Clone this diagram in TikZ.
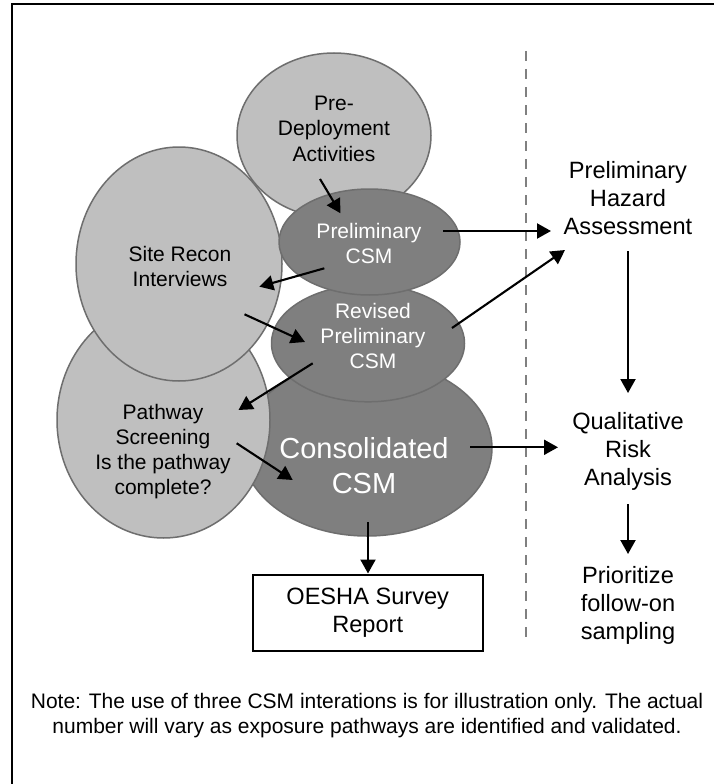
\documentclass[tikz,border=0pt]{standalone}
\usepackage{fontspec}
\setmainfont{Liberation Sans}
\usetikzlibrary{shapes.geometric,arrows.meta}
\definecolor{lightfill}{HTML}{BFBFBF}
\definecolor{darkfill}{HTML}{7F7F7F}
\definecolor{edgegray}{HTML}{6E6E6E}
\definecolor{dashgray}{HTML}{808080}
\begin{document}
\begin{tikzpicture}[x=1pt,y=-1pt,
  bubble/.style={ellipse, draw=edgegray, line width=1.5pt, inner sep=0pt, outer sep=0pt},
  lightbub/.style={bubble, fill=lightfill},
  darkbub/.style={bubble, fill=darkfill},
  txt/.style={align=center, inner sep=0pt, font=\fontsize{21}{25.5}\selectfont},
  wtxt/.style={txt, text=white},
  bigtxt/.style={align=center, inner sep=0pt, text=white, font=\fontsize{29}{35}\selectfont},
  rtxt/.style={align=center, inner sep=0pt, font=\fontsize{23.6}{28}\selectfont},
  arr/.style={line width=2.1pt, -{Triangle[length=14pt,width=15pt]}},
  frameline/.style={line width=2.4pt, black},
  divider/.style={line width=2pt, dashgray, dash pattern=on 10pt off 8pt},
]
\useasboundingbox (0,0) rectangle (714,784);
\fill[white] (0,0) rectangle (714,784);
% frame (top and left edges visible)
\coordinate (fbl) at (12,786);
\coordinate (ftl) at (12,4);
\coordinate (ftr) at (716,4);
\draw[frameline] (fbl) -- (ftl) -- (ftr);

% divider
\coordinate (dtop) at (526,51);
\coordinate (dbot) at (526,640);
\draw[divider] (dtop) -- (dbot);

% bubbles, back to front
\node[lightbub, minimum width=194pt, minimum height=165pt] (predep) at (334,135.5) {};
\node[darkbub, minimum width=250pt, minimum height=176pt] (consol) at (367,448) {};
\node[lightbub, minimum width=213pt, minimum height=236pt] (pathway) at (163.5,420) {};
\node[lightbub, minimum width=206pt, minimum height=234pt] (recon) at (179,264) {};
\node[darkbub, minimum width=193pt, minimum height=117pt] (revised) at (368,343.3) {};
\node[darkbub, minimum width=181pt, minimum height=106pt] (prelim) at (369.5,242) {};

% bubble texts
\node[txt] (predeptxt) at (334,128.7) {Pre-\\Deployment\\Activities};
\node[txt] (recontxt) at (180,266.7) {Site Recon\\Interviews};
\node[txt, font=\fontsize{21}{25}\selectfont] (pathtxt) at (163,452) {Pathway\\Screening\\Is the pathway\\complete?};
\node[wtxt, font=\fontsize{21}{25}\selectfont] (prelimtxt) at (369,243.3) {Preliminary\\CSM};
\node[wtxt, font=\fontsize{21}{25}\selectfont] (revisedtxt) at (373,335.5) {Revised\\Preliminary\\CSM};
\node[bigtxt] (consoltxt) at (364,465.4) {Consolidated\\CSM};

% right-hand column
\node[rtxt] (hazard) at (628,197.8) {Preliminary\\Hazard\\Assessment};
\node[rtxt] (qual) at (628,451.5) {Qualitative\\Risk\\Analysis};
\node[rtxt] (prior) at (628,605.2) {Prioritize\\follow-on\\sampling};

% report box
\node[draw=black, line width=2pt, minimum width=230pt, minimum height=76pt, inner sep=0pt,
      align=center, font=\fontsize{23.6}{28}\selectfont] (report) at (367.7,612.5) {OESHA Survey\\Report};

% note
\node[align=center, inner sep=0pt, font=\fontsize{21}{25}\selectfont] (note) at (367,715.4)
  {Note: The use of three CSM interations is for illustration only. The actual\\number will vary as exposure pathways are identified and validated.};

% arrow end points
\coordinate (a1s) at (320,179);     \coordinate (a1e) at (340.5,213.3);
\coordinate (a2s) at (324.3,268.3); \coordinate (a2e) at (259.3,286.7);
\coordinate (a3s) at (244.5,314.3); \coordinate (a3e) at (305,342);
\coordinate (a4s) at (312.7,363.3); \coordinate (a4e) at (238.5,410);
\coordinate (a5s) at (236.7,443.3); \coordinate (a5e) at (292.7,480);
\coordinate (a6s) at (443,231);     \coordinate (a6e) at (551,231);
\coordinate (a7s) at (452,328);     \coordinate (a7e) at (565,250);
\coordinate (a8s) at (470,447.3);   \coordinate (a8e) at (558,447.3);
\coordinate (a9s) at (368,522);
\coordinate (a10s) at (628,251);    \coordinate (a10e) at (628,393);
\coordinate (a11s) at (628,504);    \coordinate (a11e) at (628,554);

\draw[arr] (a1s) -- (a1e);
\draw[arr] (a2s) -- (a2e);
\draw[arr] (a3s) -- (a3e);
\draw[arr] (a4s) -- (a4e);
\draw[arr] (a5s) -- (a5e);
\draw[arr] (a6s) -- (a6e);
\draw[arr] (a7s) -- (a7e);
\draw[arr] (a8s) -- (a8e);
\draw[arr] (a9s) -- (a9s |- report.north);
\draw[arr] (a10s) -- (a10e);
\draw[arr] (a11s) -- (a11e);
\end{tikzpicture}
\end{document}
